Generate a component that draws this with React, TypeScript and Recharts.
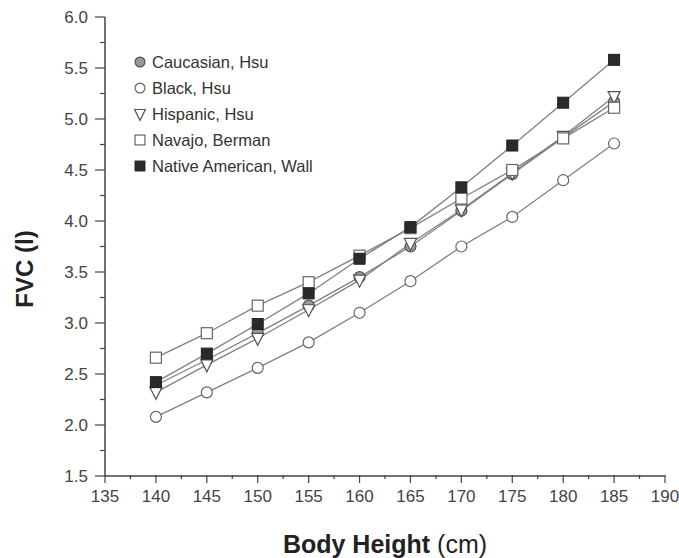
import React from 'react';
import { LineChart, Line, XAxis, YAxis, Legend } from 'recharts';

// body height (cm) and FVC (l)
const heights = [140, 145, 150, 155, 160, 165, 170, 175, 180, 185];
const caucasian = [2.39, 2.64, 2.9, 3.17, 3.45, 3.75, 4.1, 4.46, 4.82, 5.17];
const black = [2.08, 2.32, 2.56, 2.81, 3.1, 3.41, 3.75, 4.04, 4.4, 4.76];
const hispanic = [2.32, 2.59, 2.85, 3.13, 3.42, 3.78, 4.11, 4.47, 4.83, 5.22];
const navajo = [2.66, 2.9, 3.17, 3.4, 3.66, 3.93, 4.22, 4.5, 4.81, 5.11];
const nativeAm = [2.42, 2.7, 2.99, 3.29, 3.63, 3.94, 4.33, 4.74, 5.16, 5.58];

const xTicks = [135, 137.5, 140, 142.5, 145, 147.5, 150, 152.5, 155, 157.5, 160, 162.5, 165, 167.5, 170, 172.5, 175, 177.5, 180, 182.5, 185, 187.5, 190];
const yTicks = [1.5, 1.75, 2, 2.25, 2.5, 2.75, 3, 3.25, 3.5, 3.75, 4, 4.25, 4.5, 4.75, 5, 5.25, 5.5, 5.75, 6];

const data = heights.map((h, i) => ({
  h,
  caucasian: caucasian[i],
  black: black[i],
  hispanic: hispanic[i],
  navajo: navajo[i],
  nativeAm: nativeAm[i],
}));

type Kind = 'grayCircle' | 'openCircle' | 'triangle' | 'openSquare' | 'filledSquare';

const series: { key: string; name: string; kind: Kind }[] = [
  { key: 'caucasian', name: 'Caucasian, Hsu', kind: 'grayCircle' },
  { key: 'black', name: 'Black, Hsu', kind: 'openCircle' },
  { key: 'hispanic', name: 'Hispanic, Hsu', kind: 'triangle' },
  { key: 'navajo', name: 'Navajo, Berman', kind: 'openSquare' },
  { key: 'nativeAm', name: 'Native American, Wall', kind: 'filledSquare' },
];

const FONT = '"Liberation Sans", Arial, sans-serif';
const AXIS = '#444';
const LINE = '#808080';

function Marker({ kind, cx, cy, s = 1 }: { kind: Kind; cx: number; cy: number; s?: number }) {
  if (cx == null || cy == null) return null;
  switch (kind) {
    case 'grayCircle':
      return <circle cx={cx} cy={cy} r={5.5 * s} fill="#9a9a9a" stroke="#555" strokeWidth={1.2} />;
    case 'openCircle':
      return <circle cx={cx} cy={cy} r={5.5 * s} fill="#fff" stroke="#666" strokeWidth={1.2} />;
    case 'triangle':
      return (
        <polygon
          points={`${cx - 6 * s},${cy - 5 * s} ${cx + 6 * s},${cy - 5 * s} ${cx},${cy + 7 * s}`}
          fill="#fff"
          stroke="#555"
          strokeWidth={1.2}
        />
      );
    case 'openSquare':
      return <rect x={cx - 5.5 * s} y={cy - 5.5 * s} width={11 * s} height={11 * s} fill="#fff" stroke="#666" strokeWidth={1.2} />;
    default:
      return <rect x={cx - 5.5 * s} y={cy - 5.5 * s} width={11 * s} height={11 * s} fill="#2a2a2a" stroke="#222" strokeWidth={1} />;
  }
}

const isMajor = (v: number, step: number) => Math.abs(v / step - Math.round(v / step)) < 1e-6;

function YTick(props: any) {
  const { x, y, payload } = props;
  const major = isMajor(payload.value, 0.5);
  const ax = x + 17;
  return (
    <g>
      <line x1={ax} x2={ax - (major ? 10 : 5)} y1={y} y2={y} stroke={AXIS} strokeWidth={1.2} />
      {major && (
        <text x={x} y={y} textAnchor="end" dominantBaseline="central" fill="#444" fontSize={17} fontFamily={FONT}>
          {payload.value.toFixed(1)}
        </text>
      )}
    </g>
  );
}

function XTick(props: any) {
  const { x, y, payload } = props;
  const major = isMajor(payload.value, 5);
  const ay = y - 15;
  return (
    <g>
      <line x1={x} x2={x} y1={ay} y2={ay + (major ? 8 : 4)} stroke={AXIS} strokeWidth={1.2} />
      {major && (
        <text x={x} y={y} dy="0.71em" textAnchor="middle" fill="#444" fontSize={17} fontFamily={FONT}>
          {payload.value}
        </text>
      )}
    </g>
  );
}

function LegendBox() {
  return (
    <div style={{ fontFamily: FONT, fontSize: 16.5, color: '#333', lineHeight: '26px' }}>
      {series.map((s) => (
        <div key={s.key} style={{ display: 'flex', alignItems: 'center', whiteSpace: 'nowrap' }}>
          <svg width={16} height={16} style={{ marginRight: 4 }}>
            <Marker kind={s.kind} cx={8} cy={8} s={0.9} />
          </svg>
          <span>{s.name}</span>
        </div>
      ))}
    </div>
  );
}

export default function App() {
  return (
    <div style={{ position: 'absolute', left: 0, top: 0, background: '#fff' }}>
      <LineChart width={679} height={558} data={data} margin={{ top: 17, right: 14, bottom: 0, left: 0 }}>
        <XAxis
          dataKey="h"
          type="number"
          domain={[135, 190]}
          ticks={xTicks}
          interval={0}
          height={82}
          tickSize={8}
          tickMargin={6}
          tickLine={false}
          tick={<XTick />}
          axisLine={{ stroke: AXIS, strokeWidth: 1.5 }}
          label={{
            content: (p: any) => {
              const vb = p.viewBox;
              return (
                <text x={vb.x + vb.width / 2} y={vb.y + 77} textAnchor="middle" fill="#222" fontFamily={FONT} fontSize={25}>
                  <tspan fontWeight="bold">Body Height</tspan>
                  <tspan> (cm)</tspan>
                </text>
              );
            },
          }}
        />
        <XAxis xAxisId="top" orientation="top" type="number" domain={[135, 190]} height={0} tick={false} tickLine={false} axisLine={{ stroke: AXIS, strokeWidth: 1.5 }} />
        <YAxis
          type="number"
          domain={[1.5, 6]}
          ticks={yTicks}
          interval={0}
          width={105}
          tickSize={9}
          tickMargin={8}
          tickLine={false}
          tick={<YTick />}
          axisLine={{ stroke: AXIS, strokeWidth: 1.5 }}
          label={{
            content: () => (
              <text x={33} y={269} transform="rotate(-90 33 269)" textAnchor="middle" fill="#222" fontFamily={FONT} fontSize={24} fontWeight="bold">
                FVC (l)
              </text>
            ),
          }}
        />
        <YAxis yAxisId="right" orientation="right" type="number" domain={[1.5, 6]} width={0} tick={false} tickLine={false} axisLine={{ stroke: AXIS, strokeWidth: 1.5 }} />
        <Legend
          layout="vertical"
          align="center"
          verticalAlign="middle"
          content={() => <LegendBox />}
          wrapperStyle={{ position: 'absolute', left: 132, top: 49, width: 'auto', height: 'auto' }}
        />
        {series.map((s) => (
          <Line
            key={s.key}
            dataKey={s.key}
            name={s.name}
            type="linear"
            stroke={LINE}
            strokeWidth={1.3}
            isAnimationActive={false}
            dot={(p: any) => <Marker key={`${s.key}-${p.index}`} kind={s.kind} cx={p.cx} cy={p.cy} />}
            activeDot={false}
          />
        ))}
      </LineChart>
    </div>
  );
}
